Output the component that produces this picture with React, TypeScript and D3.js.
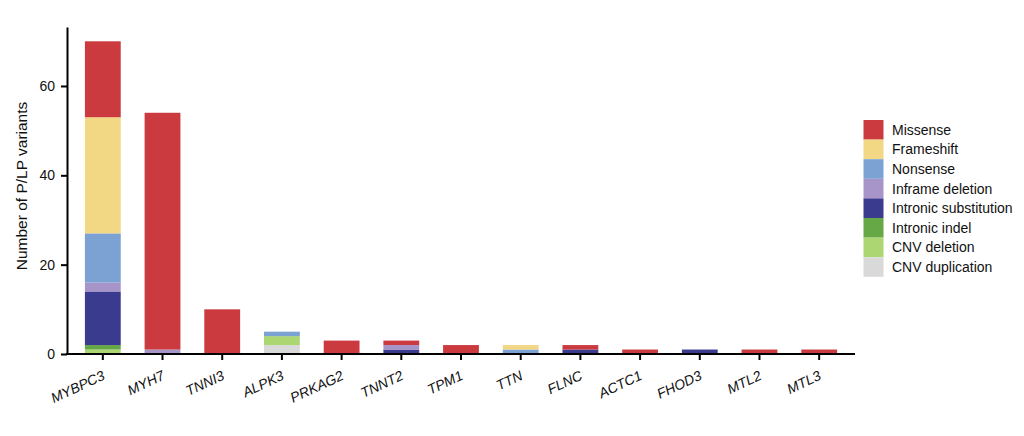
import { useRef, useEffect } from 'react'
import * as d3 from 'd3'

const GENES = ['MYBPC3', 'MYH7', 'TNNI3', 'ALPK3', 'PRKAG2', 'TNNT2', 'TPM1', 'TTN', 'FLNC', 'ACTC1', 'FHOD3', 'MTL2', 'MTL3']

const TYPES = [
  'Missense',
  'Frameshift',
  'Nonsense',
  'Inframe deletion',
  'Intronic substitution',
  'Intronic indel',
  'CNV deletion',
  'CNV duplication',
]

const COLORS = ['#cb3a3f', '#f2d784', '#7ba2d3', '#a795c9', '#3a3a8e', '#66a845', '#acd672', '#d9d9d9']

// counts per gene, one array per variant type (same order as GENES)
const MISSENSE = [17, 53, 10, 0, 3, 1, 2, 0, 1, 1, 0, 1, 1]
const FRAMESHIFT = [26, 0, 0, 0, 0, 0, 0, 1, 0, 0, 0, 0, 0]
const NONSENSE = [11, 0, 0, 1, 0, 0, 0, 1, 0, 0, 0, 0, 0]
const INFRAME_DEL = [2, 1, 0, 0, 0, 1, 0, 0, 0, 0, 0, 0, 0]
const INTRONIC_SUB = [12, 0, 0, 0, 0, 1, 0, 0, 1, 0, 1, 0, 0]
const INTRONIC_INDEL = [1, 0, 0, 0, 0, 0, 0, 0, 0, 0, 0, 0, 0]
const CNV_DEL = [1, 0, 0, 2, 0, 0, 0, 0, 0, 0, 0, 0, 0]
const CNV_DUP = [0, 0, 0, 2, 0, 0, 0, 0, 0, 0, 0, 0, 0]

const SERIES = [MISSENSE, FRAMESHIFT, NONSENSE, INFRAME_DEL, INTRONIC_SUB, INTRONIC_INDEL, CNV_DEL, CNV_DUP]

const Y_TICKS = [0, 20, 40, 60]

export default function App() {
  const svgRef = useRef<SVGSVGElement>(null)

  useEffect(() => {
    if (!svgRef.current) return
    const svg = d3.select(svgRef.current)
    svg.selectAll('*').remove()

    const font = 'Liberation Sans, Arial, sans-serif'
    const left = 67
    const right = 855
    const top = 27
    const bottom = 354

    const rows = GENES.map((g, i) => {
      const r: Record<string, number | string> = { gene: g }
      TYPES.forEach((t, j) => (r[t] = SERIES[j][i]))
      return r
    })

    // stack from the bottom: CNV duplication first, missense last
    const stackKeys = [...TYPES].reverse()
    const stacked = d3.stack<Record<string, number | string>>().keys(stackKeys)(rows)

    const x = d3.scaleBand().domain(GENES).range([left, right]).paddingInner(0.4).paddingOuter(0.3)
    const y = d3.scaleLinear().domain([0, 73.2]).range([bottom, top])
    const color = d3.scaleOrdinal<string, string>().domain(TYPES).range(COLORS)

    svg
      .append('g')
      .selectAll('g')
      .data(stacked)
      .join('g')
      .attr('fill', (d) => color(d.key))
      .selectAll('rect')
      .data((d) => d)
      .join('rect')
      .attr('x', (d) => x(d.data.gene as string)!)
      .attr('width', x.bandwidth())
      .attr('y', (d) => y(d[1]))
      .attr('height', (d) => y(d[0]) - y(d[1]))

    // y axis
    const yAxis = svg
      .append('g')
      .attr('transform', `translate(${left},0)`)
      .call(d3.axisLeft(y).tickValues(Y_TICKS).tickSize(6).tickSizeOuter(0).tickPadding(6))
    yAxis.select('.domain').attr('stroke', '#000').attr('stroke-width', 2)
    yAxis.selectAll('.tick line').attr('stroke', '#000').attr('stroke-width', 2)
    yAxis.selectAll('.tick text').attr('font-family', font).attr('font-size', 14).attr('fill', '#111')

    // x axis
    const xAxis = svg
      .append('g')
      .attr('transform', `translate(0,${bottom})`)
      .call(d3.axisBottom(x).tickSize(6).tickSizeOuter(0))
    xAxis.select('.domain').attr('d', `M${left - 1},0H${right}`).attr('stroke', '#000').attr('stroke-width', 2)
    xAxis.selectAll('.tick line').attr('stroke', '#000').attr('stroke-width', 2)
    xAxis
      .selectAll('.tick text')
      .attr('font-family', font)
      .attr('font-size', 14)
      .attr('font-style', 'italic')
      .attr('fill', '#111')
      .attr('text-anchor', 'end')
      .attr('y', 0)
      .attr('dy', 0)
      .attr('transform', 'translate(3,25) rotate(-25)')

    svg
      .append('text')
      .attr('transform', `translate(27,186) rotate(-90)`)
      .attr('text-anchor', 'middle')
      .attr('font-family', font)
      .attr('font-size', 15.5)
      .attr('fill', '#111')
      .text('Number of P/LP variants')

    // legend
    const lg = svg.append('g').attr('transform', 'translate(863.5,120)')
    const item = lg
      .selectAll('g')
      .data(TYPES)
      .join('g')
      .attr('transform', (_, i) => `translate(0,${i * 19.6})`)
    item.append('rect').attr('width', 20).attr('height', 19.6).attr('fill', (d) => color(d))
    item
      .append('text')
      .attr('x', 28.5)
      .attr('y', 10)
      .attr('dy', '0.35em')
      .attr('font-family', font)
      .attr('font-size', 14)
      .attr('fill', '#111')
      .text((d) => d)
  }, [])

  return <svg ref={svgRef} width={1024} height={436} style={{ display: 'block', margin: -8 }} />
}
